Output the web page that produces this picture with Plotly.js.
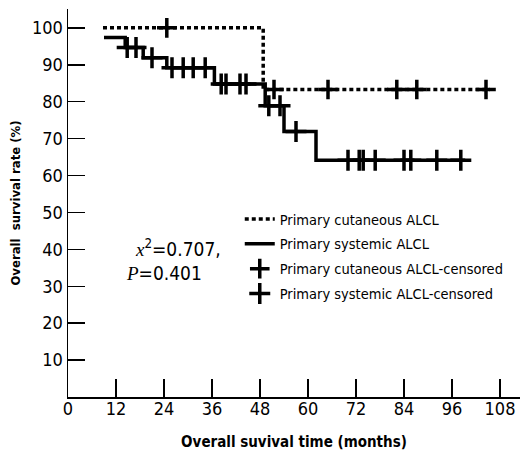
<!DOCTYPE html>
<html>
<head>
<meta charset="utf-8">
<script src="https://cdn.plot.ly/plotly-3.0.1.min.js"></script>
<style>html,body{margin:0;padding:0;background:#fff;}</style>
</head>
<body>
<div id="chart" style="width:522px;height:454px;"></div>
<script>
// Primary cutaneous ALCL (Kaplan-Meier step curve)
var cutTime = [8.75, 48.8, 105.5];
var cutSurv = [100, 83.3, 83.3];
// Primary systemic ALCL
var sysTime = [9, 14.3, 18.8, 24.7, 36.6, 49.3, 54, 62, 99.3];
var sysSurv = [97.4, 94.7, 91.9, 89.2, 84.8, 78.9, 71.9, 64.1, 64.1];
// Censored observations
var cutCensTime = [24.7, 51.5, 65, 82.2, 87.2, 104.5];
var cutCensSurv = [100, 83.3, 83.3, 83.3, 83.3, 83.3];
var sysCensTime = [14.8, 17, 21, 26, 28.8, 31.3, 34.3, 38.3, 39.5, 43, 44.5, 50.2, 53, 57, 70, 72.8, 73.8, 76.8, 84, 85.7, 92.2, 98.2];
var sysCensSurv = [94.7, 94.7, 91.9, 89.2, 89.2, 89.2, 89.2, 84.8, 84.8, 84.8, 84.8, 78.9, 78.9, 71.9, 64.1, 64.1, 64.1, 64.1, 64.1, 64.1, 64.1, 64.1];
var xTicks = [0, 12, 24, 36, 48, 60, 72, 84, 96, 108];
var yTicks = [10, 20, 30, 40, 50, 60, 70, 80, 90, 100];

var F = '"DejaVu Sans Condensed", "DejaVu Sans", sans-serif';

var traces = [
  {x: cutTime, y: cutSurv, mode: 'lines', name: 'Primary cutaneous ALCL', legendgroup: 'a',
   line: {shape: 'hv', color: '#000', width: 3.5, dash: '4px,3px'}},
  {x: sysTime, y: sysSurv, mode: 'lines', name: 'Primary systemic ALCL', legendgroup: 'b',
   line: {shape: 'hv', color: '#000', width: 3.5}},
  {x: cutCensTime, y: cutCensSurv, mode: 'markers', name: 'Primary cutaneous ALCL-censored', legendgroup: 'c',
   marker: {symbol: 'cross-thin', size: 14, color: '#000', line: {width: 3.5, color: '#000'}}},
  {x: sysCensTime, y: sysCensSurv, mode: 'markers', name: 'Primary systemic ALCL-censored', legendgroup: 'd',
   marker: {symbol: 'cross-thin', size: 15, color: '#000', line: {width: 3.5, color: '#000'}}}
];

var layout = {
  width: 522, height: 454,
  margin: {l: 68, r: 2, t: 9, b: 57},
  paper_bgcolor: '#fff', plot_bgcolor: '#fff',
  font: {family: F, color: '#000', size: 18},
  showlegend: true,
  legend: {x: 0.38, y: 0.5, xanchor: 'left', yanchor: 'top', bgcolor: 'rgba(0,0,0,0)',
           font: {family: F, size: 14.5, color: '#000'}, traceorder: 'grouped', tracegroupgap: 3,
           itemwidth: 30},
  xaxis: {
    range: [0, 113], tickvals: xTicks, ticktext: xTicks.map(String),
    ticks: 'inside', ticklen: 18, tickwidth: 1.5, tickcolor: '#000',
    showline: true, linewidth: 1.5, linecolor: '#000', showgrid: false, zeroline: false,
    tickfont: {family: F, size: 18}, ticklabelstandoff: -5,
    title: {text: 'Overall suvival time (months)', font: {family: F, size: 15, weight: 'bold'}, standoff: 18}
  },
  yaxis: {
    range: [0, 105.1], tickvals: yTicks, ticktext: yTicks.map(String),
    ticks: 'inside', ticklen: 17, tickwidth: 1.5, tickcolor: '#000',
    showline: true, linewidth: 1.5, linecolor: '#000', showgrid: false, zeroline: false,
    tickfont: {family: F, size: 18},
    title: {text: 'Overall\u00a0 survival rate (%)', font: {family: F, size: 13, weight: 'bold'}, standoff: 8}
  },
  annotations: [
    {xref: 'paper', yref: 'paper', x: (133 - 68) / 452, y: (397 - 248) / 388, xanchor: 'left', yanchor: 'middle',
     showarrow: false, font: {family: F, size: 19},
     text: '<span style="font-family:\'Liberation Serif\',serif;font-style:italic">x</span><sup>2</sup>=0.707,'},
    {xref: 'paper', yref: 'paper', x: (124 - 68) / 452, y: (397 - 273) / 388, xanchor: 'left', yanchor: 'middle',
     showarrow: false, font: {family: F, size: 19},
     text: '<span style="font-family:\'Liberation Serif\',serif;font-style:italic">P</span>=0.401'}
  ]
};

Plotly.newPlot('chart', traces, layout, {displayModeBar: false, staticPlot: true});
</script>
</body>
</html>
